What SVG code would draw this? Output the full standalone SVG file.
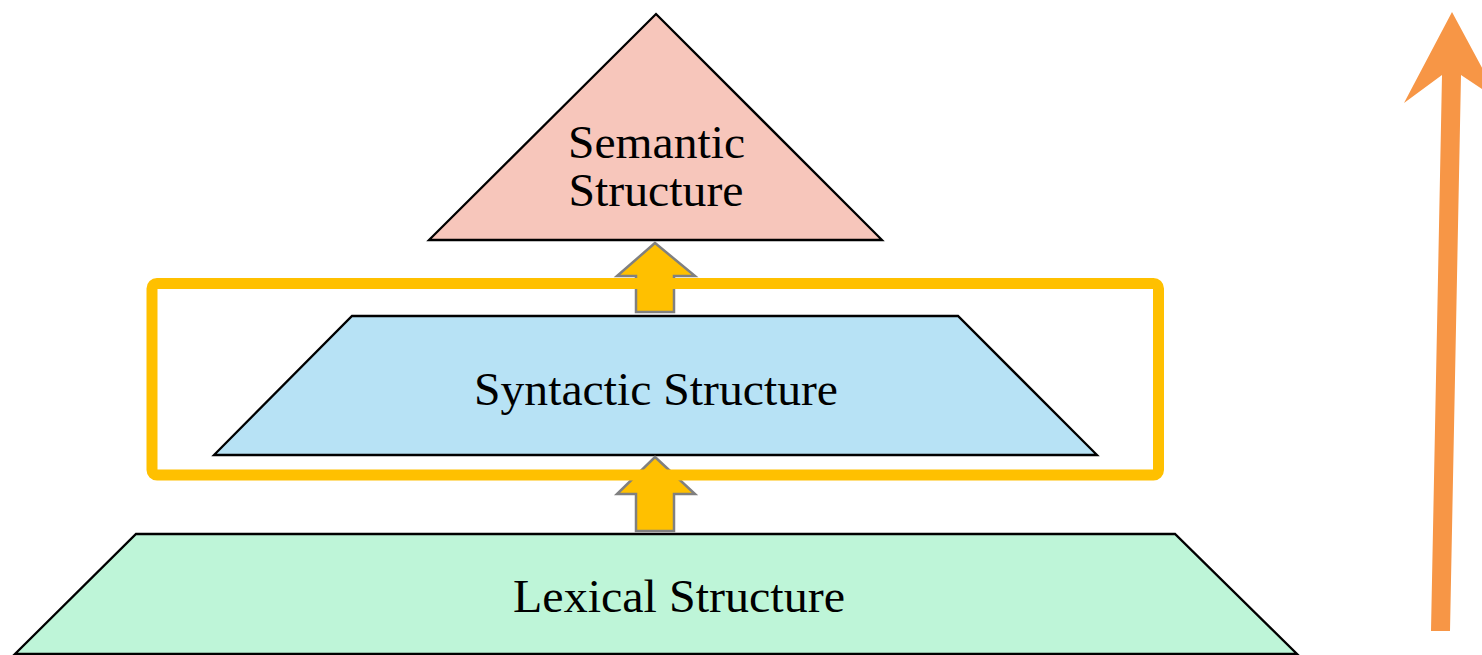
<svg xmlns="http://www.w3.org/2000/svg" width="1482" height="655" viewBox="0 0 1482 655">
  <style>
    .layer { stroke: #000; stroke-width: 2.3; stroke-linejoin: miter; }
    .label { font-family: "Liberation Serif", "Times New Roman", serif; font-size: 47px; fill: #000; text-anchor: middle; }
    .step { fill: #FFC000; stroke: #808080; stroke-width: 2.5; stroke-linejoin: miter; }
  </style>
  <rect width="1482" height="655" fill="#fff"/>

  <g id="semantic">
    <polygon class="layer" points="656,14 882,240 429,240" fill="#F7C6BB"/>
    <text class="label" x="656.5" y="158" textLength="177" lengthAdjust="spacingAndGlyphs">Semantic</text>
    <text class="label" x="656" y="206" textLength="175" lengthAdjust="spacingAndGlyphs">Structure</text>
  </g>

  <g id="syntactic">
    <polygon class="layer" points="352,316 958,316 1097,455 214,455" fill="#B7E2F5"/>
    <text class="label" x="656" y="405" textLength="364" lengthAdjust="spacingAndGlyphs">Syntactic Structure</text>
  </g>

  <g id="lexical">
    <polygon class="layer" points="136,534 1175,534 1297,654 15,654" fill="#BEF5D8"/>
    <text class="label" x="679" y="612" textLength="332" lengthAdjust="spacingAndGlyphs">Lexical Structure</text>
  </g>

  <g id="connectors">
    <polygon class="step" points="655,243 695,276 674,276 674,312 636,312 636,276 617,276"/>
    <polygon class="step" points="655,457 695,494 674,494 674,531 636,531 636,494 617,494"/>
    <polygon points="1452,12 1500,101 1461,75 1450,631 1431,631 1442,75 1404,103" fill="#F79646"/>
  </g>

  <g id="focus">
    <rect x="152" y="283.5" width="1006.5" height="191.5" rx="5" fill="none" stroke="#FFC000" stroke-width="11"/>
  </g>
</svg>
